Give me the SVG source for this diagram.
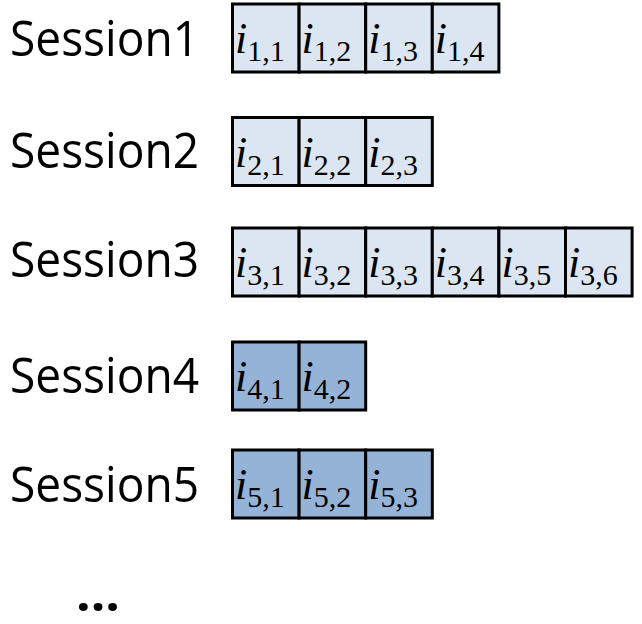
<svg xmlns="http://www.w3.org/2000/svg" width="642" height="624" viewBox="0 0 642 624">
<style>
.lbl{font-family:"Open Sans","Liberation Sans",sans-serif;font-size:50px;fill:#000}
.c1{fill:#DCE6F2;stroke:#000;stroke-width:3}
.c2{fill:#95B3D7;stroke:#000;stroke-width:3}
.it{font-family:"Liberation Serif","DejaVu Serif",serif;fill:#000}
.i{font-style:italic;font-size:44px}
.s{font-size:30px}
</style>
<rect width="642" height="624" fill="#fff"/>
<g id="connectors"/>
<g id="session1">
<text class="lbl" x="10" y="56" textLength="189" lengthAdjust="spacingAndGlyphs">Session1</text>
<rect class="c1" x="232.5" y="4" width="66.6" height="68"/>
<rect class="c1" x="299.1" y="4" width="66.6" height="68"/>
<rect class="c1" x="365.7" y="4" width="66.6" height="68"/>
<rect class="c1" x="432.3" y="4" width="66.6" height="68"/>
<text class="it" x="235" y="53"><tspan class="i">i</tspan><tspan class="s" dy="8">1,1</tspan></text>
<text class="it" x="301.6" y="53"><tspan class="i">i</tspan><tspan class="s" dy="8">1,2</tspan></text>
<text class="it" x="368.2" y="53"><tspan class="i">i</tspan><tspan class="s" dy="8">1,3</tspan></text>
<text class="it" x="434.8" y="53"><tspan class="i">i</tspan><tspan class="s" dy="8">1,4</tspan></text>
</g>
<g id="session2">
<text class="lbl" x="10" y="168" textLength="189" lengthAdjust="spacingAndGlyphs">Session2</text>
<rect class="c1" x="232.5" y="117.5" width="66.6" height="68"/>
<rect class="c1" x="299.1" y="117.5" width="66.6" height="68"/>
<rect class="c1" x="365.7" y="117.5" width="66.6" height="68"/>
<text class="it" x="235" y="166.5"><tspan class="i">i</tspan><tspan class="s" dy="8">2,1</tspan></text>
<text class="it" x="301.6" y="166.5"><tspan class="i">i</tspan><tspan class="s" dy="8">2,2</tspan></text>
<text class="it" x="368.2" y="166.5"><tspan class="i">i</tspan><tspan class="s" dy="8">2,3</tspan></text>
</g>
<g id="session3">
<text class="lbl" x="10" y="277" textLength="189" lengthAdjust="spacingAndGlyphs">Session3</text>
<rect class="c1" x="232.5" y="228" width="66.6" height="68"/>
<rect class="c1" x="299.1" y="228" width="66.6" height="68"/>
<rect class="c1" x="365.7" y="228" width="66.6" height="68"/>
<rect class="c1" x="432.3" y="228" width="66.6" height="68"/>
<rect class="c1" x="498.9" y="228" width="66.6" height="68"/>
<rect class="c1" x="565.5" y="228" width="66.6" height="68"/>
<text class="it" x="235" y="277"><tspan class="i">i</tspan><tspan class="s" dy="8">3,1</tspan></text>
<text class="it" x="301.6" y="277"><tspan class="i">i</tspan><tspan class="s" dy="8">3,2</tspan></text>
<text class="it" x="368.2" y="277"><tspan class="i">i</tspan><tspan class="s" dy="8">3,3</tspan></text>
<text class="it" x="434.8" y="277"><tspan class="i">i</tspan><tspan class="s" dy="8">3,4</tspan></text>
<text class="it" x="501.4" y="277"><tspan class="i">i</tspan><tspan class="s" dy="8">3,5</tspan></text>
<text class="it" x="568" y="277"><tspan class="i">i</tspan><tspan class="s" dy="8">3,6</tspan></text>
</g>
<g id="session4">
<text class="lbl" x="10" y="393" textLength="189" lengthAdjust="spacingAndGlyphs">Session4</text>
<rect class="c2" x="232.5" y="342" width="66.6" height="68"/>
<rect class="c2" x="299.1" y="342" width="66.6" height="68"/>
<text class="it" x="235" y="391"><tspan class="i">i</tspan><tspan class="s" dy="8">4,1</tspan></text>
<text class="it" x="301.6" y="391"><tspan class="i">i</tspan><tspan class="s" dy="8">4,2</tspan></text>
</g>
<g id="session5">
<text class="lbl" x="10" y="502" textLength="189" lengthAdjust="spacingAndGlyphs">Session5</text>
<rect class="c2" x="232.5" y="450" width="66.6" height="68"/>
<rect class="c2" x="299.1" y="450" width="66.6" height="68"/>
<rect class="c2" x="365.7" y="450" width="66.6" height="68"/>
<text class="it" x="235" y="499"><tspan class="i">i</tspan><tspan class="s" dy="8">5,1</tspan></text>
<text class="it" x="301.6" y="499"><tspan class="i">i</tspan><tspan class="s" dy="8">5,2</tspan></text>
<text class="it" x="368.2" y="499"><tspan class="i">i</tspan><tspan class="s" dy="8">5,3</tspan></text>
</g>
<g id="ellipsis">
<text x="76" y="611" font-family="Open Sans, Liberation Sans, sans-serif" font-weight="bold" font-size="48" textLength="44" lengthAdjust="spacingAndGlyphs">...</text>
</g>
</svg>
